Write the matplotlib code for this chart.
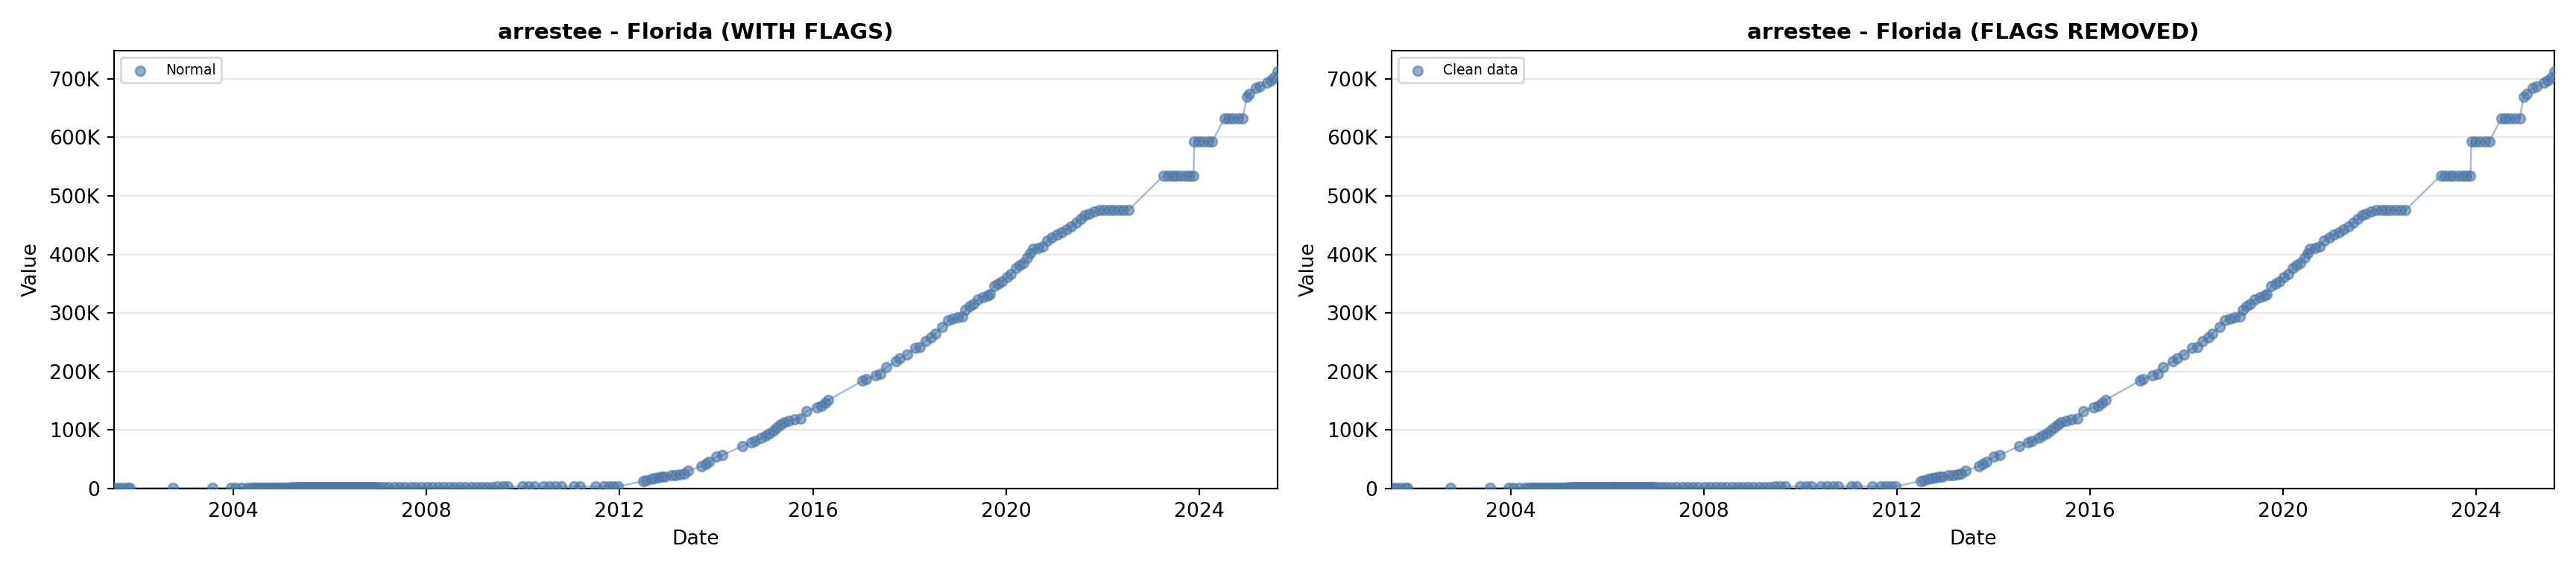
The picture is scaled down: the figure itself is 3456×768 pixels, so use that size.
import matplotlib
matplotlib.use("Agg")
import matplotlib.pyplot as plt
import matplotlib.dates as mdates
from matplotlib.ticker import FuncFormatter
import pandas as pd

# ---------------- data ----------------
early_dates = [
    "2001-07-12", "2001-08-15", "2001-09-20", "2001-10-25", "2001-11-10",
    "2002-10-01", "2003-07-30", "2003-12-15", "2004-01-20", "2004-03-05", "2004-04-20",
    "2004-05-15", "2004-06-01", "2004-06-16", "2004-07-01", "2004-07-16", "2004-08-01",
    "2004-08-16", "2004-09-01", "2004-09-16", "2004-10-01", "2004-10-16", "2004-11-01",
    "2004-11-16", "2004-12-01", "2004-12-16", "2005-01-01", "2005-01-16", "2005-02-01",
    "2005-02-16", "2005-03-01", "2005-03-16", "2005-04-01", "2005-04-16", "2005-05-01",
    "2005-05-16", "2005-06-01", "2005-06-16", "2005-07-01", "2005-07-16", "2005-08-01",
    "2005-08-16", "2005-09-01", "2005-09-16", "2005-10-01", "2005-10-16", "2005-11-01",
    "2005-11-16", "2005-12-01", "2005-12-16", "2006-01-01", "2006-01-16", "2006-02-01",
    "2006-02-16", "2006-03-01", "2006-03-16", "2006-04-01", "2006-04-16", "2006-05-01",
    "2006-05-16", "2006-06-01", "2006-06-16", "2006-07-01", "2006-07-16", "2006-08-01",
    "2006-08-16", "2006-09-01", "2006-09-16", "2006-10-01", "2006-10-16", "2006-11-01",
    "2006-11-16", "2006-12-01", "2006-12-16",
    "2007-01-10", "2007-02-15", "2007-03-20", "2007-05-01", "2007-06-10", "2007-07-20",
    "2007-09-01", "2007-10-10", "2007-11-20", "2008-01-05", "2008-02-15", "2008-04-01",
    "2008-05-10", "2008-06-20", "2008-08-01", "2008-09-10", "2008-10-20", "2008-12-01",
    "2009-01-10", "2009-02-20", "2009-04-01", "2009-05-10", "2009-06-20", "2009-08-01",
    "2009-09-05",
    "2009-12-28", "2010-02-10", "2010-03-25",
    "2010-06-05", "2010-07-20", "2010-09-01", "2010-10-15",
    "2011-01-20", "2011-03-05", "2011-07-01",
    "2011-09-01", "2011-10-10", "2011-11-15", "2011-12-20",
]
early_values = [
    400, 500, 450, 600, 500,
    700, 800, 900, 1000, 950, 1100,
    1200, 1250, 1300, 1250, 1300, 1350,
    1300, 1350, 1400, 1350, 1400, 1450,
    1400, 1450, 1500, 1450, 1500, 1550,
    1500, 1550, 1600, 1550, 1600, 1650,
    1600, 1650, 1700, 1650, 1700, 1750,
    1700, 1750, 1800, 1750, 1800, 1850,
    1800, 1850, 1900, 1850, 1900, 1950,
    1900, 1950, 2000, 1950, 2000, 2050,
    2000, 2050, 2100, 2050, 2100, 2150,
    2100, 2150, 2200, 2150, 2200, 2250,
    2200, 2250, 2300,
    2300, 2300, 2350, 2350, 2400, 2400,
    2450, 2450, 2500, 2500, 2550, 2550,
    2600, 2600, 2650, 2650, 2700, 2700,
    2750, 2750, 2800, 2800, 2850, 2850,
    2900,
    2900, 2950, 2950,
    3000, 3000, 3050, 3050,
    3100, 3100, 3150,
    3150, 3200, 3200, 3250,
]

growth_dates = [
    "2012-06-28", "2012-07-20", "2012-08-28", "2012-09-20", "2012-10-20", "2012-11-18",
    "2012-12-10", "2013-01-26", "2013-02-25", "2013-04-01", "2013-05-01", "2013-06-03",
    "2013-09-12", "2013-10-12", "2013-11-06", "2014-01-01", "2014-02-15", "2014-07-16",
    "2014-09-20", "2014-10-20", "2014-12-06", "2015-01-08", "2015-02-06", "2015-03-08",
    "2015-04-05", "2015-05-01", "2015-05-27", "2015-07-02", "2015-08-15", "2015-09-28",
    "2015-11-14", "2016-01-30", "2016-03-03", "2016-04-01", "2016-04-27",
    "2017-01-12", "2017-02-07", "2017-04-20", "2017-05-27", "2017-07-09", "2017-09-20",
    "2017-10-20", "2017-12-14", "2018-02-14", "2018-03-22", "2018-05-01", "2018-06-13",
    "2018-07-16", "2018-09-06", "2018-10-20", "2018-11-25", "2019-01-01", "2019-02-06",
    "2019-03-01", "2019-03-30", "2019-04-28", "2019-06-03", "2019-07-10", "2019-08-15",
    "2019-08-30", "2019-10-05", "2019-11-03", "2019-12-02", "2020-01-08", "2020-02-07",
    "2020-03-14", "2020-04-12", "2020-05-11", "2020-06-10", "2020-07-02", "2020-07-24",
    "2020-08-30", "2020-10-05", "2020-11-06", "2020-12-13", "2021-01-18", "2021-02-24",
    "2021-04-01", "2021-05-08", "2021-06-14", "2021-07-20", "2021-08-18", "2021-09-20",
    "2021-10-27", "2021-12-06", "2022-01-12", "2022-02-17", "2022-03-25", "2022-05-01",
    "2022-06-07", "2022-07-16",
    "2023-04-08", "2023-05-08", "2023-06-10", "2023-07-08", "2023-08-15", "2023-09-20",
    "2023-10-20", "2023-11-18",
    "2023-11-25", "2023-12-25", "2024-01-30", "2024-03-07", "2024-04-08",
    "2024-07-10", "2024-08-08", "2024-09-12", "2024-10-20", "2024-11-25",
    "2024-12-25", "2025-01-15", "2025-03-03", "2025-04-01", "2025-05-27", "2025-06-25",
    "2025-07-20", "2025-08-14",
]
growth_values = [
    12300, 14000, 16000, 17500, 18500, 19500,
    20500, 22000, 23000, 23500, 25000, 30000,
    38000, 42000, 45000, 54000, 57000, 72000,
    79000, 81000, 86000, 90000, 94000, 99000,
    104000, 109000, 113000, 116000, 118000, 119500,
    132000, 139000, 141000, 146000, 151000,
    184000, 187000, 193000, 196000, 207000, 217000,
    223000, 229000, 240000, 242000, 252000, 258000,
    265000, 276000, 287000, 290000, 292000, 294000,
    305000, 311000, 316000, 323000, 327000, 330000,
    332000, 346000, 350000, 354000, 361000, 366000,
    376000, 381000, 386000, 394000, 402000, 409000,
    411000, 414000, 423000, 429000, 434000, 438000,
    443000, 448000, 454000, 461000, 467000, 470000,
    473000, 476000, 476000, 476000, 476000, 476000,
    476000, 476000,
    535000, 535000, 535000, 535000, 535000, 535000,
    535000, 535000,
    593000, 593000, 593000, 593000, 593000,
    633000, 633000, 633000, 633000, 633000,
    669000, 675000, 684000, 687000, 694000, 697000,
    703000, 713000,
]

titles = ["arrestee - Florida (WITH FLAGS)", "arrestee - Florida (FLAGS REMOVED)"]
legend_labels = ["Normal", "Clean data"]

# ---------------- plotting ----------------
dates = pd.to_datetime(early_dates + growth_dates)
values = early_values + growth_values

COLOR = "#4C78A8"

fig = plt.figure(figsize=(18, 4), dpi=192)
positions = [[0.0442, 0.1462, 0.4517, 0.7656], [0.5401, 0.1462, 0.4515, 0.7656]]


def kfmt(v, _pos):
    if v == 0:
        return "0"
    return f"{v / 1000:.0f}K"


for pos, title, lab in zip(positions, titles, legend_labels):
    ax = fig.add_axes(pos)
    ax.plot(dates, values, "-", color=COLOR, alpha=0.5, linewidth=0.9, zorder=2)
    ax.scatter(dates, values, s=23, color=COLOR, alpha=0.6, label=lab, zorder=3)
    ax.set_xlim(dates.min(), dates.max())
    ax.set_ylim(bottom=0)
    ax.yaxis.set_major_formatter(FuncFormatter(kfmt))
    ax.xaxis.set_major_locator(mdates.YearLocator(4))
    ax.xaxis.set_major_formatter(mdates.DateFormatter("%Y"))
    ax.grid(True, axis="y", alpha=0.3)
    ax.set_axisbelow(True)
    ax.set_title(title, fontsize=11, fontweight="bold")
    ax.set_xlabel("Date")
    ax.set_ylabel("Value")
    ax.legend(loc="upper left", fontsize=7)

fig.savefig("out.png", dpi=192)
